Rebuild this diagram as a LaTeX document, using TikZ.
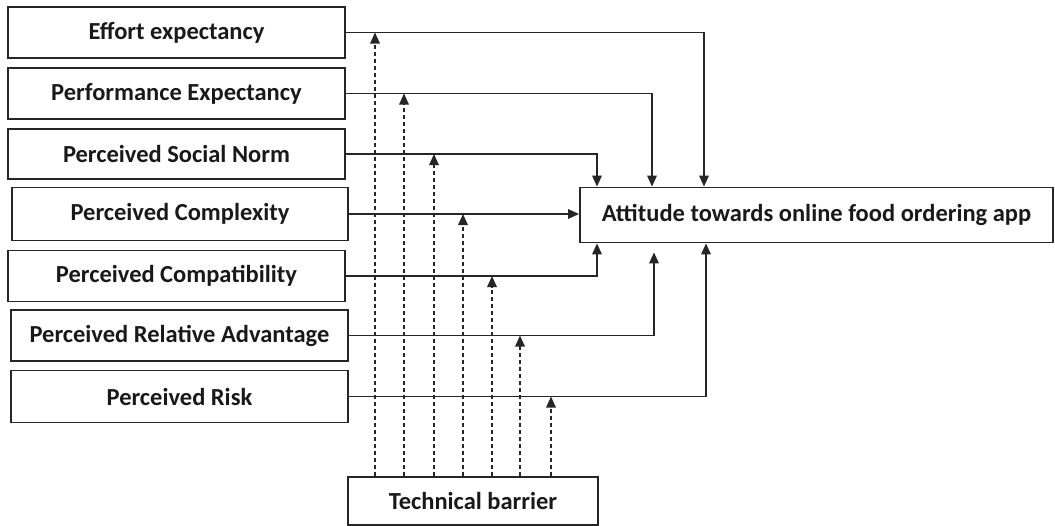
\documentclass[tikz,border=0pt]{standalone}
\usepackage{fontspec}
\setmainfont{Carlito}
\usetikzlibrary{arrows.meta}
\begin{document}
\begin{tikzpicture}[x=1pt,y=-1pt,
  box/.style={draw=black!85,line width=1.8pt,rectangle,inner sep=0pt,font=\fontsize{24.5}{28}\selectfont\bfseries,text=black!90},
  conn/.style={draw=black!85,line width=1.6pt,-{Triangle[length=11pt,width=9.5pt]}},
  dconn/.style={draw=black!85,line width=1.6pt,dash pattern=on 4pt off 3pt,-{Triangle[length=11pt,width=9.5pt]}}]
\useasboundingbox (0,0) rectangle (1055,525);
\node[box,minimum width=337pt,minimum height=51pt] (e1) at (176.5,32.5) {Effort expectancy};
\node[box,minimum width=337pt,minimum height=51pt] (e2) at (176.5,93.5) {Performance Expectancy};
\node[box,minimum width=337pt,minimum height=50pt] (e3) at (176.5,154) {Perceived Social Norm};
\node[box,minimum width=336pt,minimum height=53pt] (e4) at (180,214) {Perceived Complexity};
\node[box,minimum width=337pt,minimum height=51pt] (e5) at (176.5,276) {Perceived Compatibility};
\node[box,minimum width=337pt,minimum height=51pt] (e6) at (179.5,335.5) {Perceived Relative Advantage};
\node[box,minimum width=337pt,minimum height=52pt] (e7) at (179.5,396.5) {Perceived Risk};
\node[box,minimum width=473pt,minimum height=55pt] (att) at (816.5,215) {Attitude towards online food ordering app};
\node[box,minimum width=250pt,minimum height=48pt] (tb) at (473,501) {Technical barrier};
% solid connectors
\draw[conn] (e1.east) -| ([xshift=-112.5pt]att.north);
\draw[conn] (e2.east) -| ([xshift=-164.5pt]att.north);
\draw[conn] (e3.east) -| ([xshift=-219.5pt]att.north);
\draw[conn] (e4.east) -- (e4.east -| att.west);
\draw[conn] (e5.east) -| ([xshift=-219.5pt]att.south);
\draw[conn,shorten >=9pt] (e6.east) -| ([xshift=-162.5pt]att.south);
\draw[conn] (e7.east) -| ([xshift=-110.5pt]att.south);
% dashed connectors from technical barrier
\coordinate (d1) at ([xshift=-98pt]tb.north);
\coordinate (d2) at ([xshift=-69pt]tb.north);
\coordinate (d3) at ([xshift=-39pt]tb.north);
\coordinate (d4) at ([xshift=-10pt]tb.north);
\coordinate (d5) at ([xshift=19pt]tb.north);
\coordinate (d6) at ([xshift=47pt]tb.north);
\coordinate (d7) at ([xshift=78pt]tb.north);
\draw[dconn] (d1) -- (d1 |- e1.east);
\draw[dconn] (d2) -- (d2 |- e2.east);
\draw[dconn] (d3) -- (d3 |- e3.east);
\draw[dconn] (d4) -- (d4 |- e4.east);
\draw[dconn] (d5) -- (d5 |- e5.east);
\draw[dconn] (d6) -- (d6 |- e6.east);
\draw[dconn] (d7) -- (d7 |- e7.east);
\end{tikzpicture}
\end{document}
